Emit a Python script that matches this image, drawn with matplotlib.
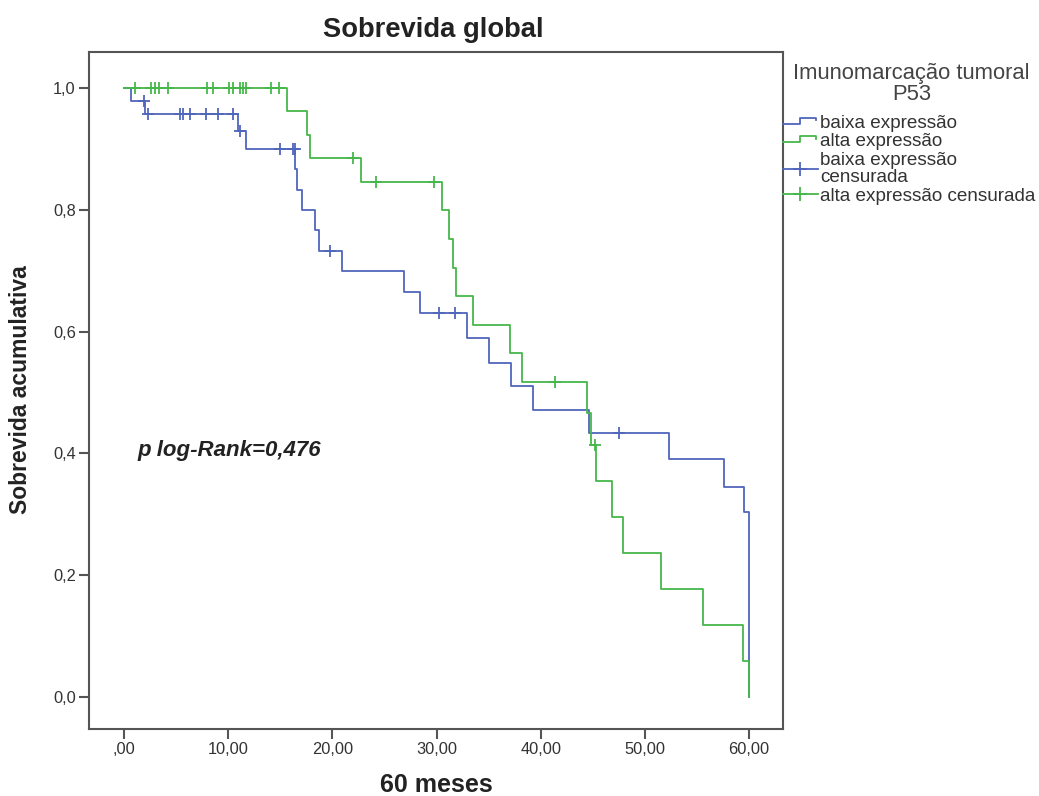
import matplotlib
matplotlib.use('Agg')
import matplotlib.pyplot as plt
from matplotlib.lines import Line2D
from matplotlib.legend_handler import HandlerBase
import numpy as np

plt.rcParams['font.family'] = ['Liberation Sans', 'DejaVu Sans']

C_BAIXA = '#4f66bb'   # baixa expressao
C_ALTA = '#45b84a'    # alta expressao
C_TEXT = '#333333'
C_AXIS = '#555555'

# Kaplan-Meier steps: time of each step (months) and survival after it
baixa_t = [0, 0.64, 2.0, 10.97, 11.7, 16.45, 16.6, 17.1, 18.3, 18.7, 20.9,
           26.9, 28.4, 32.9, 35.0, 37.1, 39.3, 44.6, 52.3, 57.6, 59.5, 60.0]
baixa_s = [1.0, 0.979, 0.958, 0.929, 0.900, 0.867, 0.833, 0.800, 0.767, 0.733, 0.700,
           0.665, 0.630, 0.590, 0.549, 0.511, 0.472, 0.433, 0.390, 0.345, 0.303, 0.0]
baixa_cens = [1.9, 2.3, 5.4, 5.7, 6.3, 7.9, 9.0, 10.5, 11.1, 15.0, 16.2, 16.4,
              19.8, 30.2, 31.8, 47.5]

alta_t = [0, 15.6, 17.6, 17.85, 22.7, 30.5, 31.2, 31.6, 31.9, 33.5, 37.0, 38.2,
          44.4, 44.8, 45.3, 46.8, 47.9, 51.5, 55.6, 59.4, 60.0]
alta_s = [1.0, 0.962, 0.923, 0.885, 0.846, 0.800, 0.752, 0.705, 0.658, 0.611, 0.564, 0.517,
          0.466, 0.414, 0.355, 0.296, 0.237, 0.178, 0.118, 0.059, 0.0]
alta_cens = [1.1, 2.6, 3.0, 3.4, 4.2, 8.0, 8.5, 10.1, 10.5, 11.1, 11.4, 11.7,
             14.1, 14.9, 22.0, 24.2, 29.75, 41.4, 45.2]

x_ticks = [0, 10, 20, 30, 40, 50, 60]
x_labels = [',00', '10,00', '20,00', '30,00', '40,00', '50,00', '60,00']
y_ticks = [0.0, 0.2, 0.4, 0.6, 0.8, 1.0]
y_labels = ['0,0', '0,2', '0,4', '0,6', '0,8', '1,0']

legend_labels = ['baixa expressão', 'alta expressão', 'baixa expressão\ncensurada',
                 'alta expressão censurada']


def surv_at(times, surv, t):
    i = np.searchsorted(times, t, side='right') - 1
    return np.asarray(surv)[i]


class StepHandler(HandlerBase):
    def create_artists(self, legend, orig_handle, xdescent, ydescent,
                       width, height, fontsize, trans):
        x = np.array([0, 0.5, 0.5, 0.95, 0.95]) * width - xdescent
        y = np.array([0.3, 0.3, 0.75, 0.75, 0.58]) * height - ydescent
        ln = Line2D(x, y, color=orig_handle.get_color(),
                    lw=orig_handle.get_linewidth())
        ln.set_transform(trans)
        return [ln]


W, H = 1039, 796
fig = plt.figure(figsize=(W / 100, H / 100), dpi=100)
ax = fig.add_axes([89 / W, 1 - 729 / H, (783 - 89) / W, (729 - 52) / H])

ax.step(baixa_t, baixa_s, where='post', color=C_BAIXA, lw=1.3, zorder=3)
ax.plot(baixa_cens, surv_at(baixa_t, baixa_s, baixa_cens), ls='none',
        marker='+', ms=8, mew=1.3, color=C_BAIXA, zorder=3)
ax.step(alta_t, alta_s, where='post', color=C_ALTA, lw=1.3, zorder=4)
ax.plot(alta_cens, surv_at(alta_t, alta_s, alta_cens), ls='none',
        marker='+', ms=8, mew=1.3, color=C_ALTA, zorder=4)

ax.set_xlim(-3.36, 63.25)
ax.set_ylim(-0.0525, 1.059)
ax.set_xticks(x_ticks)
ax.set_xticklabels(x_labels)
ax.set_yticks(y_ticks)
ax.set_yticklabels(y_labels)
ax.tick_params(direction='out', length=7, width=1.5, color=C_AXIS,
               labelsize=11.8, labelcolor=C_TEXT, pad=2.5)
for sp in ax.spines.values():
    sp.set_color(C_AXIS)
    sp.set_linewidth(1.5)

ax.text(1.25, 0.404, 'p log-Rank=0,476', fontsize=16, fontweight='bold',
        style='italic', color='#222222', ha='left', va='center')

fig.text(433 / W, 1 - 30 / H, 'Sobrevida global', fontsize=19.7,
         fontweight='bold', color='#222222', ha='center', va='center')
fig.text(21 / W, 1 - 390 / H, 'Sobrevida acumulativa', fontsize=16.5,
         fontweight='bold', color='#222222', ha='center', va='center', rotation=90)
fig.text(436 / W, 1 - 785.5 / H, '60 meses', fontsize=18,
         fontweight='bold', color='#222222', ha='center', va='center')

# legend title and entries
fig.text(911.5 / W, 1 - 84 / H, 'Imunomarcação tumoral\nP53', fontsize=15.8,
         color='#444444', ha='center', va='center', multialignment='center',
         linespacing=1.0)

h1 = Line2D([], [], color=C_BAIXA, lw=1.3)
h2 = Line2D([], [], color=C_ALTA, lw=1.3)
h3 = Line2D([], [], color=C_BAIXA, lw=1.3, marker='+', ms=10, mew=1.3)
h4 = Line2D([], [], color=C_ALTA, lw=1.3, marker='+', ms=10, mew=1.3)
leg = fig.legend([h1, h2, h3, h4], legend_labels,
                 loc='center left', bbox_to_anchor=(783 / W, 1 - 159.5 / H),
                 frameon=False, fontsize=13.6, handlelength=1.85,
                 handletextpad=0.12, borderpad=0, borderaxespad=0,
                 labelspacing=0.075,
                 handler_map={h1: StepHandler(), h2: StepHandler()})
for t in leg.get_texts():
    t.set_color(C_TEXT)
    t.set_linespacing(1.03)

fig.savefig('out.png', dpi=100)
plt.close(fig)
